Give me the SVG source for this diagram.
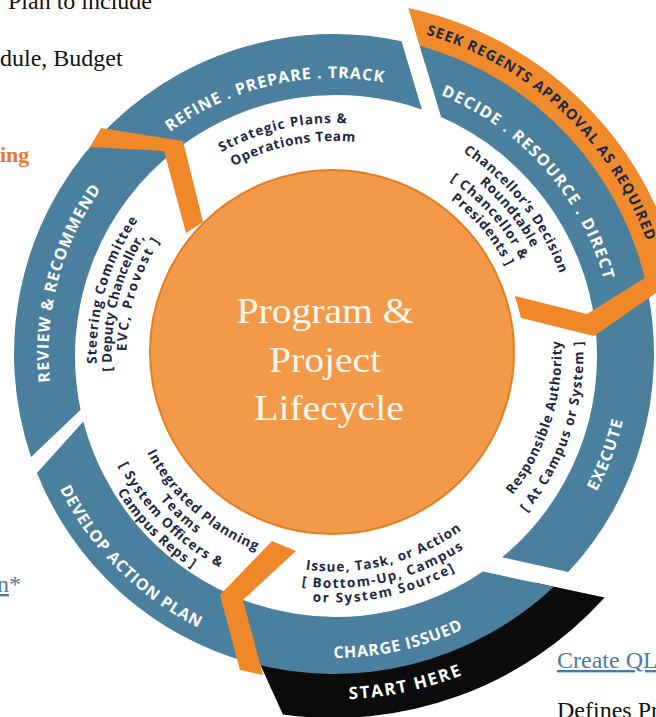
<svg xmlns="http://www.w3.org/2000/svg" width="656" height="717" viewBox="0 0 656 717">
<style>
  .seg{fill:#4a7f9d}
  .chev{fill:#f0882a}
  .band{font-family:"Open Sans","DejaVu Sans",sans-serif;font-weight:700;font-size:16px;fill:#ffffff;text-anchor:middle}
  .who{font-family:"Open Sans","DejaVu Sans",sans-serif;font-weight:700;font-size:13.5px;fill:#1c2846;text-anchor:middle}
  .page{font-family:"Liberation Serif","Times New Roman",serif;font-size:24px;fill:#111111}
  .link{fill:#4a7ba6}
  .hubt{font-family:"Liberation Serif","Times New Roman",serif;font-size:36px;fill:#fff8ee;text-anchor:middle}
</style>
<defs>
  <!-- clockwise arcs centred on the top (text reads left to right, tops outward) -->
  <path id="cw276" d="M-271.80 -47.91A276 276 0 0 1 271.80 -47.91"/>
  <path id="cw280" d="M-275.74 -48.61A280 280 0 0 1 275.74 -48.61"/>
  <path id="cw285" d="M-281.16 -49.56A285.5 285.5 0 0 1 281.16 -49.56"/>
  <path id="cw332" d="M-327.45 -57.72A332.5 332.5 0 0 1 327.45 -57.72"/>
  <path id="cw231" d="M-227.49 -40.10A231 231 0 0 1 227.49 -40.10"/>
  <path id="cw213" d="M-209.76 -36.98A213 213 0 0 1 209.76 -36.98"/>
  <path id="cw239" d="M-235.86 -41.58A239.5 239.5 0 0 1 235.86 -41.58"/>
  <path id="cw224" d="M-221.09 -38.97A224.5 224.5 0 0 1 221.09 -38.97"/>
  <path id="cw209" d="M-205.82 -36.28A209 209 0 0 1 205.82 -36.28"/>
  <path id="cw193" d="M-190.56 -33.59A193.5 193.5 0 0 1 190.56 -33.59"/>
  <path id="cw237" d="M-233.89 -41.23A237.5 237.5 0 0 1 233.89 -41.23"/>
  <path id="cw222" d="M-219.12 -38.63A222.5 222.5 0 0 1 219.12 -38.63"/>
  <path id="cw207" d="M-204.35 -36.02A207.5 207.5 0 0 1 204.35 -36.02"/>
  <!-- counter-clockwise arcs centred on the bottom (tops inward) -->
  <path id="ccw296" d="M-291.99 51.47A296.5 296.5 0 0 0 291.99 51.47"/>
  <path id="ccw304" d="M-299.38 52.77A304 304 0 0 0 299.38 52.77"/>
  <path id="ccw305" d="M-300.85 53.03A305.5 305.5 0 0 0 300.85 53.03"/>
  <path id="ccw345" d="M-340.25 59.98A345.5 345.5 0 0 0 340.25 59.98"/>
  <path id="ccw227" d="M-224.04 39.49A227.5 227.5 0 0 0 224.04 39.49"/>
  <path id="ccw249" d="M-245.71 43.31A249.5 249.5 0 0 0 245.71 43.31"/>
  <path id="ccw217" d="M-214.19 37.76A217.5 217.5 0 0 0 214.19 37.76"/>
  <path id="ccw234" d="M-230.44 40.62A234 234 0 0 0 230.44 40.62"/>
  <path id="ccw248" d="M-244.72 43.14A248.5 248.5 0 0 0 244.72 43.14"/>
  <path id="ccw211" d="M-208.28 36.72A211.5 211.5 0 0 0 208.28 36.72"/>
  <path id="ccw226" d="M-223.06 39.32A226.5 226.5 0 0 0 223.06 39.32"/>
  <path id="ccw242" d="M-238.32 42.01A242 242 0 0 0 238.32 42.01"/>
  <path id="ccw257" d="M-253.09 44.62A257 257 0 0 0 253.09 44.62"/>
</defs>

<!-- surrounding page text -->
<g id="page-text">
  <text class="page" x="8" y="9">Plan to include</text>
  <text class="page" x="0" y="66">dule, Budget</text>
  <text class="page" x="0" y="162" style="font-weight:700;font-size:22px;fill:#e97a2b">ing</text>
  <text class="page link" x="-3" y="592"><tspan text-decoration="underline">n</tspan>*</text>
  <text class="page link" x="557" y="668" text-decoration="underline">Create QL</text>
  <text class="page" x="557" y="718">Defines Pr</text>
</g>

<!-- outer bands -->
<g id="seek-regents">
  <path fill="#f08a2b" d="M408.3 7.9A354 354 0 0 1 678.3 271.5L634 299.1A305 305 0 0 0 424.8 62.9Z"/>
  <text class="band" style="font-size:14.5px;fill:#1c2846" transform="translate(334 354) rotate(43.1)"><textPath href="#cw332" startOffset="50%" textLength="314" lengthAdjust="spacing">SEEK REGENTS APPROVAL AS REQUIRED</textPath></text>
</g>
<g id="start-here">
  <path fill="#0b0b0b" d="M535.6 582.8L604.6 597.5A364 364 0 0 1 282.9 714.4L252.7 648A305 305 0 0 0 535.6 582.8Z"/>
  <text class="band" style="font-size:17px" transform="translate(334 354) rotate(-12.1)"><textPath href="#ccw345" startOffset="50%" textLength="116" lengthAdjust="spacing">START HERE</textPath></text>
</g>

<!-- stages of the cycle -->
<g id="stage-charge">
  <path class="seg" d="M483 571.6L553.7 586.7A320 320 0 0 1 248.5 662.4L230.4 594.7A261 261 0 0 0 483 571.6Z"/>
  <text class="band" transform="translate(334 354) rotate(-12.5)"><textPath href="#ccw304" startOffset="50%" textLength="134" lengthAdjust="spacing">CHARGE ISSUED</textPath></text>
  <text class="who" transform="translate(334 354) rotate(-14.2)"><textPath href="#ccw217" startOffset="50%" textLength="165" lengthAdjust="spacing">Issue, Task, or Action</textPath></text>
  <text class="who" transform="translate(334 354) rotate(-12.8)"><textPath href="#ccw234" startOffset="50%" textLength="170" lengthAdjust="spacing">[ Bottom-Up, Campus</textPath></text>
  <text class="who" transform="translate(334 354) rotate(-12.1)"><textPath href="#ccw248" startOffset="50%" textLength="148" lengthAdjust="spacing">or System Source]</textPath></text>
</g>
<g id="stage-develop">
  <path class="seg" d="M230.4 594.7L248.5 662.4A320 320 0 0 1 36.9 472.9L83.3 421.5A261 261 0 0 0 230.4 594.7Z"/>
  <text class="band" transform="translate(334 354) rotate(45.1)"><textPath href="#ccw305" startOffset="50%" textLength="200" lengthAdjust="spacing">DEVELOP ACTION PLAN</textPath></text>
  <text class="who" transform="translate(334 354) rotate(41.9)"><textPath href="#ccw211" startOffset="50%" textLength="150" lengthAdjust="spacing">Integrated Planning</textPath></text>
  <text class="who" transform="translate(334 354) rotate(43.8)"><textPath href="#ccw226" startOffset="50%" textLength="50" lengthAdjust="spacing">Teams</textPath></text>
  <text class="who" transform="translate(334 354) rotate(45.4)"><textPath href="#ccw242" startOffset="50%" textLength="146" lengthAdjust="spacing">[ System Officers &amp;</textPath></text>
  <text class="who" transform="translate(334 354) rotate(45.5)"><textPath href="#ccw257" startOffset="50%" textLength="108" lengthAdjust="spacing">Campus Reps ]</textPath></text>
</g>
<g id="stage-review">
  <path class="seg" d="M80.6 409.8L31.1 457.1A320 320 0 0 1 98.4 137.5L180 146.8A261 261 0 0 0 80.6 409.8Z"/>
  <text class="band" transform="translate(334 354) rotate(284.8)"><textPath href="#cw285" startOffset="50%" textLength="204" lengthAdjust="spacing">REVIEW &amp; RECOMMEND</textPath></text>
  <text class="who" transform="translate(334 354) rotate(286)"><textPath href="#cw237" startOffset="50%" textLength="152" lengthAdjust="spacing">Steering Committee</textPath></text>
  <text class="who" transform="translate(334 354) rotate(283.6)"><textPath href="#cw222" startOffset="50%" textLength="140" lengthAdjust="spacing">[ Deputy Chancellor,</textPath></text>
  <text class="who" transform="translate(334 354) rotate(286.8)"><textPath href="#cw207" startOffset="50%" textLength="116" lengthAdjust="spacing">EVC, Provost ]</textPath></text>
</g>
<g id="stage-refine">
  <path class="seg" d="M180 146.8L98.4 137.5A320 320 0 0 1 401.5 41.2L421.9 109.5A261 261 0 0 0 180 146.8Z"/>
  <text class="band" transform="translate(334 354) rotate(346.9)"><textPath href="#cw276" startOffset="50%" textLength="225" lengthAdjust="spacing">REFINE . PREPARE . TRACK</textPath></text>
  <text class="who" transform="translate(334 354) rotate(347)"><textPath href="#cw231" startOffset="50%" textLength="130" lengthAdjust="spacing">Strategic Plans &amp;</textPath></text>
  <text class="who" transform="translate(334 354) rotate(348.7)"><textPath href="#cw213" startOffset="50%" textLength="126" lengthAdjust="spacing">Operations Team</textPath></text>
</g>
<g id="stage-decide">
  <path class="seg" d="M441.1 117.1L419.7 45.7A320 320 0 0 1 647.6 290.6L595 323.5A261 261 0 0 0 441.1 117.1Z"/>
  <text class="band" transform="translate(334 354) rotate(48.5)"><textPath href="#cw280" startOffset="50%" textLength="255" lengthAdjust="spacing">DECIDE . RESOURCE . DIRECT</textPath></text>
  <text class="who" transform="translate(334 354) rotate(51.5)"><textPath href="#cw239" startOffset="50%" textLength="158" lengthAdjust="spacing">Chancellor’s Decision</textPath></text>
  <text class="who" transform="translate(334 354) rotate(51)"><textPath href="#cw224" startOffset="50%" textLength="84" lengthAdjust="spacing">Roundtable</textPath></text>
  <text class="who" transform="translate(334 354) rotate(48.5)"><textPath href="#cw209" startOffset="50%" textLength="108" lengthAdjust="spacing">[ Chancellor &amp;</textPath></text>
  <text class="who" transform="translate(334 354) rotate(50)"><textPath href="#cw193" startOffset="50%" textLength="88" lengthAdjust="spacing">Presidents ]</textPath></text>
</g>
<g id="stage-execute">
  <path class="seg" d="M595 323.5L647.6 290.6A320 320 0 0 1 568.2 572.1L502.1 557.3A261 261 0 0 0 595 323.5Z"/>
  <text class="band" transform="translate(334 354) rotate(-69.65)"><textPath href="#ccw296" startOffset="50%" textLength="76" lengthAdjust="spacing">EXECUTE</textPath></text>
  <text class="who" transform="translate(334 354) rotate(-72.5)"><textPath href="#ccw227" startOffset="50%" textLength="165" lengthAdjust="spacing">Responsible Authority</textPath></text>
  <text class="who" transform="translate(334 354) rotate(-71.7)"><textPath href="#ccw249" startOffset="50%" textLength="185" lengthAdjust="spacing">[ At Campus or System ]</textPath></text>
</g>

<!-- chevron arrows passing the cycle from one stage to the next -->
<g id="connectors">
  <polygon class="chev" points="101,128 183,141 203,222 186,233 164,151 90,147"/>
  <polygon class="chev" points="272,541 296,551 243,600 263,675 240,670 220,595"/>
  <polygon class="chev" points="515,296 587,314 672,261 676,279 594,336 521,318"/>
</g>

<!-- central hub -->
<g id="hub">
  <circle cx="332" cy="352" r="182" fill="#f39a4a" stroke="#e47c20" stroke-width="2"/>
  <text class="hubt" transform="translate(325 323) scale(1.1 1)">Program &amp;</text>
  <text class="hubt" transform="translate(325 371.5) scale(1.1 1)">Project</text>
  <text class="hubt" transform="translate(329 419.5) scale(1.1 1)">Lifecycle</text>
</g>
</svg>
